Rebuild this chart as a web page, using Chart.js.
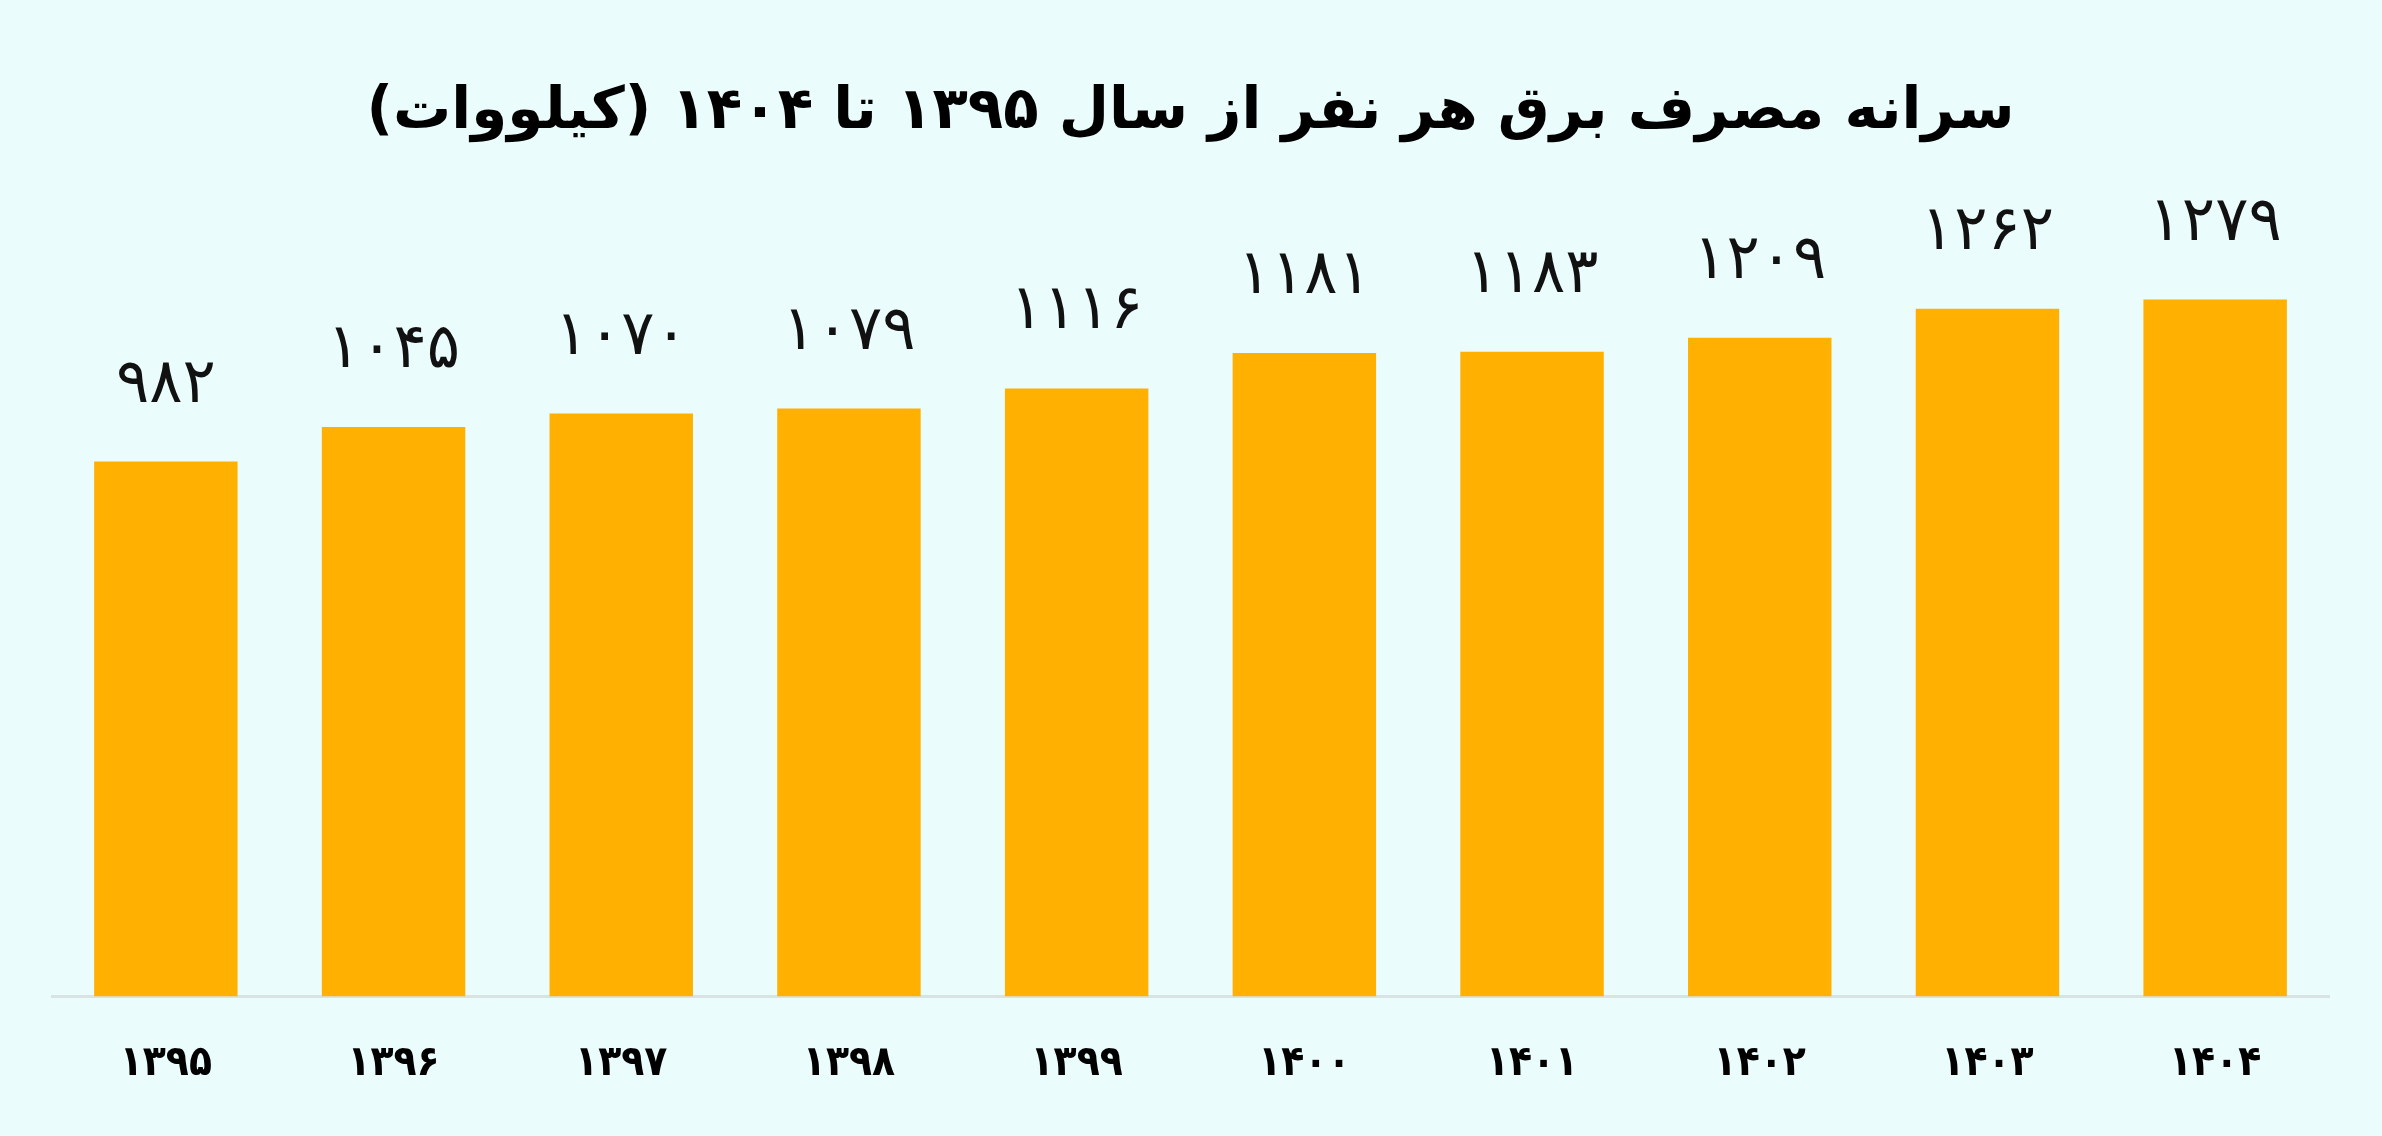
<!DOCTYPE html>
<html lang="fa">
<head>
<meta charset="utf-8">
<title>سرانه مصرف برق</title>
<script src="https://cdn.jsdelivr.net/npm/chart.js@4"></script>
<style>
  html, body { margin: 0; padding: 0; background: #eafcfc; }
  #wrap { width: 2382px; height: 1136px; }
</style>
</head>
<body>
<div id="wrap"><canvas id="chart" dir="rtl"></canvas></div>
<script>
const years = ['۱۳۹۵', '۱۳۹۶', '۱۳۹۷', '۱۳۹۸', '۱۳۹۹', '۱۴۰۰', '۱۴۰۱', '۱۴۰۲', '۱۴۰۳', '۱۴۰۴'];
const usage = [982, 1045, 1070, 1079, 1116, 1181, 1183, 1209, 1262, 1279];
const chartTitle = 'سرانه مصرف برق هر نفر از سال ۱۳۹۵ تا ۱۴۰۴ (کیلووات)';

const faDigits = '۰۱۲۳۴۵۶۷۸۹';
function toFa(n) {
  return String(n).replace(/\d/g, d => faDigits[d]);
}

// value labels above each bar
const barLabels = {
  id: 'barLabels',
  afterDatasetsDraw(chart) {
    const ctx = chart.ctx;
    const meta = chart.getDatasetMeta(0);
    ctx.save();
    ctx.fillStyle = '#111';
    ctx.font = '62px "DejaVu Sans"';
    ctx.textAlign = 'center';
    ctx.textBaseline = 'middle';
    meta.data.forEach((bar, i) => {
      ctx.fillText(toFa(usage[i]), bar.x, bar.y - 76);
    });
    ctx.restore();
  }
};

const ctx = document.getElementById('chart').getContext('2d');
new Chart(ctx, {
  type: 'bar',
  data: {
    labels: years,
    datasets: [{
      data: usage,
      backgroundColor: '#ffb000',
      categoryPercentage: 1,
      barPercentage: 0.63
    }]
  },
  options: {
    responsive: true,
    maintainAspectRatio: false,
    animation: false,
    layout: { padding: { left: 52, right: 53, bottom: 5 } },
    plugins: {
      legend: { display: false },
      tooltip: { enabled: false },
      title: {
        display: true,
        text: chartTitle,
        color: '#000',
        font: { family: '"DejaVu Sans"', size: 58, weight: 'bold', lineHeight: 1.2 },
        padding: { top: 78, bottom: 86 }
      }
    },
    scales: {
      x: {
        grid: { display: false, drawTicks: false },
        border: { display: true, color: '#d9e3e3', width: 3 },
        ticks: {
          color: '#000',
          padding: 42,
          font: { family: '"DejaVu Sans Condensed", "DejaVu Sans"', size: 42, weight: 'bold' }
        }
      },
      y: {
        display: false,
        min: 0,
        max: 1400
      }
    }
  },
  plugins: [barLabels]
});
</script>
</body>
</html>
